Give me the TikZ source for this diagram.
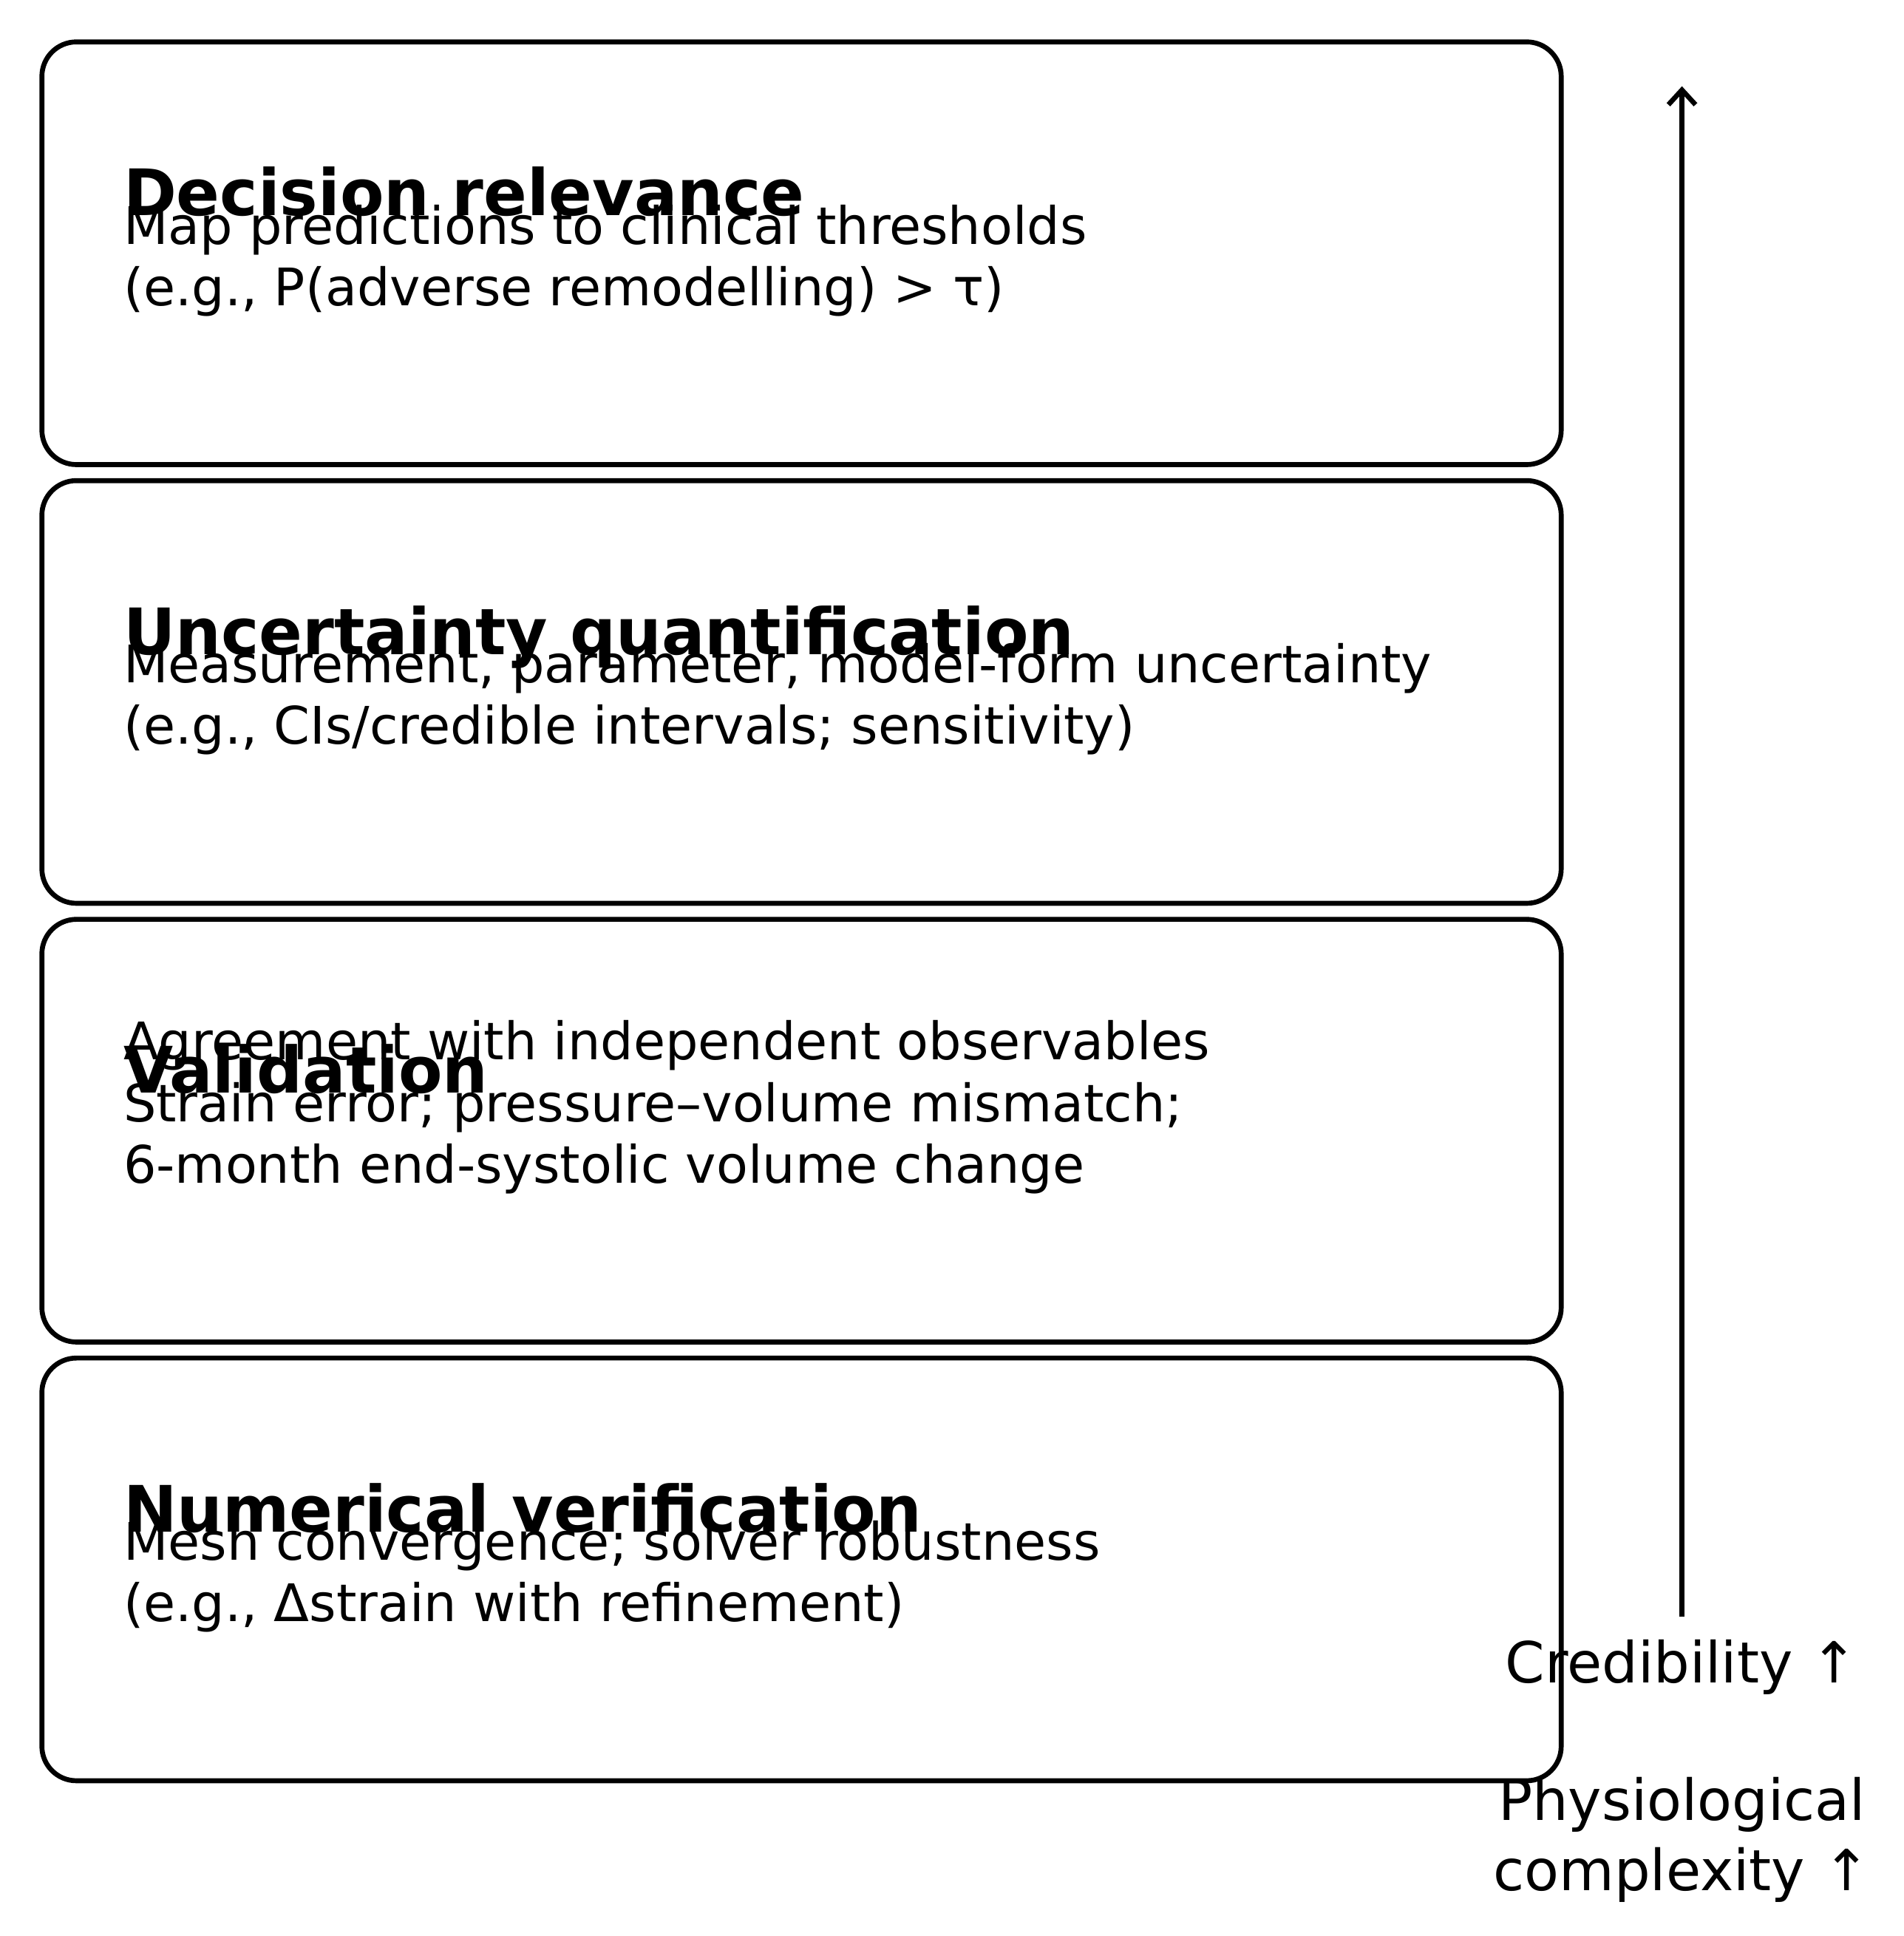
\documentclass[tikz,border=0pt]{standalone}
\usepackage{fontspec}
\setmainfont{DejaVu Sans}
\usetikzlibrary{positioning, arrows.meta}
\newcommand{\unitlen}{1pt}

\begin{document}
\begin{tikzpicture}[x=\unitlen,y=-\unitlen]
\useasboundingbox (0,0) rectangle (1545,1571);
\tikzset{
  level/.style={draw, line width=4pt, rounded corners=28pt,
                minimum width=1233pt, minimum height=343pt,
                anchor=north west, inner sep=0pt},
  title/.style={anchor=base west, inner sep=0pt, font=\fontsize{52}{62}\selectfont\bfseries},
  body/.style={anchor=base west, inner sep=0pt, align=left,
               font=\fontsize{42}{50}\selectfont},
  side/.style={inner sep=0pt, align=center, font=\fontsize{46}{57}\selectfont}
}

% levels, top to bottom
\node[level] (decision) at (32,32) {};
\node[level] (uncert) at (32,388) {};
\node[level] (valid) at (32,744) {};
\node[level] (numer) at (32,1100) {};

\node[title] (decisionT) at (100,175) {Decision relevance};
\node[body] (decisionB) at (100,248) {Map predictions to clinical thresholds\\(e.g., P(adverse remodelling) > τ)};

\node[title] (uncertT) at (100,531) {Uncertainty quantification};
\node[body] (uncertB) at (100,604) {Measurement, parameter, model-form uncertainty\\(e.g., CIs/credible intervals; sensitivity)};

\node[title] (validT) at (100,887) {Validation};
\node[body] (validB) at (100,960) {Agreement with independent observables\\Strain error; pressure–volume mismatch;\\6-month end-systolic volume change};

\node[title] (numerT) at (100,1243) {Numerical verification};
\node[body] (numerB) at (100,1316) {Mesh convergence; solver robustness\\(e.g., Δstrain with refinement)};

% credibility axis
\coordinate (axisbot) at (1365,1312);
\coordinate (axistop) at (1365,70);
\draw[line width=4pt, -{Straight Barb[length=12pt,width=22pt]}] (axisbot) -- (axistop);
\node[side] (cred) at (1365,1353) {Credibility ↑};
\node[side] (phys) at (1365,1493) {Physiological\\complexity ↑};
\end{tikzpicture}
\end{document}
